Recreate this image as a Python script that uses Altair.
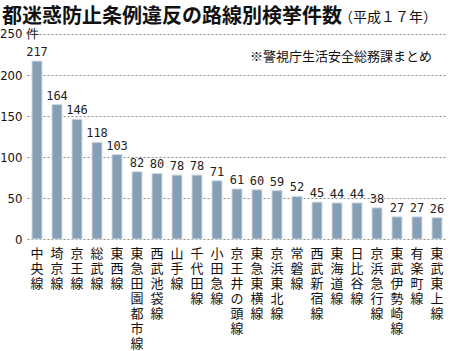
import altair as alt
import pandas as pd

lines = ["中央線", "埼京線", "京王線", "総武線", "東西線", "東急田園都市線", "西武池袋線",
         "山手線", "千代田線", "小田急線", "京王井の頭線", "東急東横線", "京浜東北線", "常磐線",
         "西武新宿線", "東海道線", "日比谷線", "京浜急行線", "東武伊勢崎線", "有楽町線", "東武東上線"]
counts = [217, 164, 146, 118, 103, 82, 80, 78, 78, 71, 61, 60, 59, 52, 45, 44, 44, 38, 27, 27, 26]
y_ticks = [0, 50, 100, 150, 200, 250]

df = pd.DataFrame({"line": lines, "count": counts})

JP = "Noto Sans CJK JP"

x_enc = alt.X("line:N", sort=lines, title=None,
              scale=alt.Scale(paddingInner=0.5, paddingOuter=0.25),
              axis=alt.Axis(labelAngle=0, labelExpr="split(datum.label, '')",
                            labelFont=JP, labelFontSize=13, labelLineHeight=15,
                            labelColor="#111", labelBaseline="top", labelPadding=8,
                            ticks=False, domain=False))
y_scale = alt.Scale(domain=[0, 250], nice=False)
y_enc = alt.Y("count:Q", scale=y_scale, title=None,
              axis=alt.Axis(values=y_ticks, labelExpr="datum.value == 250 ? '' : datum.label",
                            labelFont="DejaVu Sans Condensed", labelFontSize=13, labelColor="#111",
                            labelPadding=5, ticks=False, domain=False,
                            grid=True, gridDash=[2, 2], gridColor="#8c8c8c", gridWidth=1))

bars = alt.Chart(df).mark_bar(color="#859fb6", stroke="#d4dae0", strokeWidth=1).encode(
    x=x_enc, y=y_enc)

labels = alt.Chart(df).mark_text(font="DejaVu Sans Mono", fontSize=12, color="#222",
                                 baseline="bottom", dy=-2).encode(
    x=alt.X("line:N", sort=lines), y=alt.Y("count:Q", scale=y_scale), text="count:Q")

ylab = alt.Chart(pd.DataFrame({"v": [250], "t": ["250 件"]})).mark_text(
    font="DejaVu Sans Condensed", fontSize=13, color="#111", align="left", baseline="middle"
).encode(x=alt.value(-27), y=alt.Y("v:Q", scale=y_scale), text="t:N")

title = alt.Chart(pd.DataFrame({"t": ["都迷惑防止条例違反の路線別検挙件数"]})).mark_text(
    font=JP, fontSize=20, fontWeight="bold", color="#111", align="left", baseline="alphabetic"
).encode(x=alt.value(-25), y=alt.value(-11), text="t:N")

subtitle = alt.Chart(pd.DataFrame({"t": ["（平成１７年）"]})).mark_text(
    font=JP, fontSize=14, color="#111", align="left", baseline="alphabetic"
).encode(x=alt.value(312), y=alt.value(-12), text="t:N")

note = alt.Chart(pd.DataFrame({"t": ["※警視庁生活安全総務課まとめ"]})).mark_text(
    font=JP, fontSize=13, color="#111", align="left", baseline="middle"
).encode(x=alt.value(223), y=alt.value(23), text="t:N")

chart = alt.layer(bars, labels, ylab, title, subtitle, note).properties(
    width=420, height=205,
    padding={"left": 27, "top": 34, "right": 3, "bottom": 112},
    autosize=alt.AutoSizeParams(type="none"),
    background="white",
).configure_view(stroke=None)

chart.save("out.html", embed_options={"renderer": "svg", "actions": False})
